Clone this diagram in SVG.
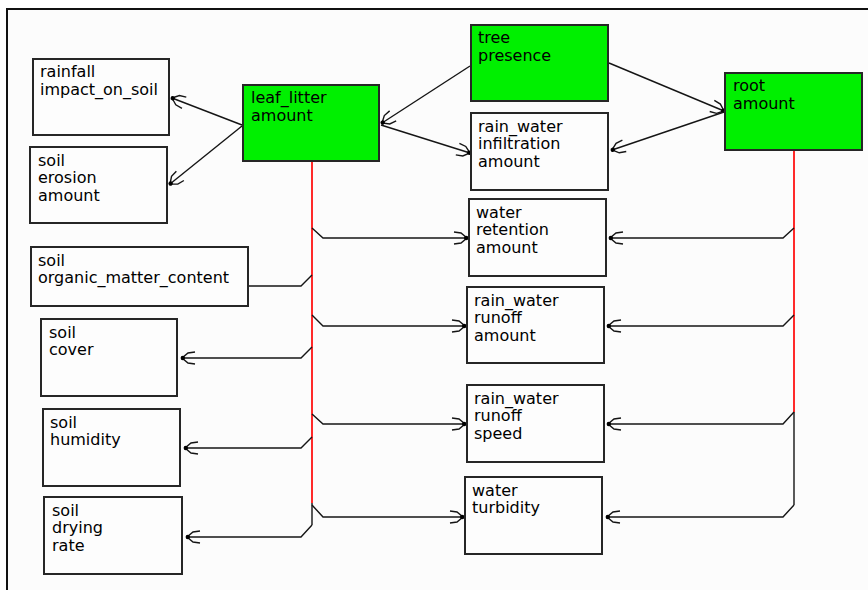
<svg xmlns="http://www.w3.org/2000/svg" width="868" height="590" viewBox="0 0 868 590">
  <style>
    .node rect { fill: #fdfdfd; stroke: #262626; stroke-width: 2; }
    .node.key rect { fill: #00f000; }
    .node text { font-family: "DejaVu Sans", "Liberation Sans", sans-serif; font-size: 16px; fill: #000; }
    .wire { fill: none; stroke: #151515; stroke-width: 1.4; }
    .arrow { marker-end: url(#head); }
    .trunk { fill: none; stroke: #ff2a2a; stroke-width: 2; }
  </style>
  <defs>
    <marker id="head" markerUnits="userSpaceOnUse" viewBox="-15 -8 17 16" refX="0" refY="0" markerWidth="17" markerHeight="16" orient="auto">
      <path d="M-13,-6 L-6,-5 L0,0 L-6,5 L-13,6" fill="none" stroke="#151515" stroke-width="1.4"/>
      <circle cx="-0.8" cy="0" r="2.2" fill="#000"/>
    </marker>
  </defs>

  <!-- canvas frame -->
  <rect x="0" y="0" width="868" height="590" fill="#ffffff"/>
  <rect x="7" y="9" width="861" height="581" fill="#fcfcfc"/>
  <path d="M7,590 V9 H868" fill="none" stroke="#111" stroke-width="2"/>

  <g id="connectors">
    <!-- tree presence outputs -->
    <line class="wire arrow" x1="470" y1="66" x2="382" y2="123"/>
    <line class="wire arrow" x1="609" y1="63" x2="724" y2="111"/>
    <!-- leaf litter diagonal links -->
    <line class="wire arrow" x1="381" y1="125" x2="470" y2="153"/>
    <line class="wire arrow" x1="242" y1="125" x2="172" y2="98"/>
    <line class="wire arrow" x1="242" y1="126" x2="170" y2="184"/>
    <!-- root amount to infiltration -->
    <line class="wire arrow" x1="724" y1="112" x2="612" y2="150"/>

    <!-- leaf litter trunk -->
    <line class="trunk" x1="312" y1="162" x2="312" y2="503"/>
    <line class="wire" x1="312" y1="503" x2="312" y2="525"/>
    <polyline class="wire arrow" points="312,228 323,238 467,238"/>
    <polyline class="wire" points="249,286 301,286 312,275"/>
    <polyline class="wire arrow" points="312,315 323,326 465,326"/>
    <polyline class="wire arrow" points="312,347 301,358 182,358"/>
    <polyline class="wire arrow" points="312,414 323,424 465,424"/>
    <polyline class="wire arrow" points="312,437 301,448 185,448"/>
    <polyline class="wire arrow" points="312,505 323,517 463,517"/>
    <polyline class="wire arrow" points="312,525 301,537 187,537"/>

    <!-- root amount trunk -->
    <line class="trunk" x1="794" y1="151" x2="794" y2="412"/>
    <line class="wire" x1="794" y1="412" x2="794" y2="505"/>
    <polyline class="wire arrow" points="794,228 783,238 610,238"/>
    <polyline class="wire arrow" points="794,315 783,326 608,326"/>
    <polyline class="wire arrow" points="794,412 783,424 608,424"/>
    <polyline class="wire arrow" points="794,505 783,517 607,517"/>
  </g>

  <g id="rainfall_impact" class="node">
    <rect x="33" y="59" width="136" height="76"/>
    <text x="40" y="77">rainfall</text>
    <text x="40" y="94.5">impact_on_soil</text>
  </g>
  <g id="soil_erosion" class="node">
    <rect x="30" y="147" width="137" height="76"/>
    <text x="38" y="165.5">soil</text>
    <text x="38" y="183">erosion</text>
    <text x="38" y="200.5">amount</text>
  </g>
  <g id="leaf_litter" class="node key">
    <rect x="243" y="85" width="136" height="76"/>
    <text x="251" y="103">leaf_litter</text>
    <text x="251" y="120.5">amount</text>
  </g>
  <g id="organic_matter" class="node">
    <rect x="31" y="247" width="217" height="59"/>
    <text x="38" y="265.5">soil</text>
    <text x="38" y="283">organic_matter_content</text>
  </g>
  <g id="soil_cover" class="node">
    <rect x="41" y="319" width="136" height="77"/>
    <text x="49" y="337.5">soil</text>
    <text x="49" y="355">cover</text>
  </g>
  <g id="soil_humidity" class="node">
    <rect x="43" y="409" width="137" height="77"/>
    <text x="50" y="427.5">soil</text>
    <text x="50" y="445">humidity</text>
  </g>
  <g id="soil_drying" class="node">
    <rect x="44" y="497" width="138" height="77"/>
    <text x="52" y="515.5">soil</text>
    <text x="52" y="533">drying</text>
    <text x="52" y="550.5">rate</text>
  </g>
  <g id="tree_presence" class="node key">
    <rect x="471" y="25" width="137" height="76"/>
    <text x="478" y="43">tree</text>
    <text x="478" y="60.5">presence</text>
  </g>
  <g id="infiltration" class="node">
    <rect x="471" y="113" width="137" height="77"/>
    <text x="478" y="131.5">rain_water</text>
    <text x="478" y="149">infiltration</text>
    <text x="478" y="166.5">amount</text>
  </g>
  <g id="water_retention" class="node">
    <rect x="469" y="199" width="137" height="77"/>
    <text x="476" y="217.5">water</text>
    <text x="476" y="235">retention</text>
    <text x="476" y="252.5">amount</text>
  </g>
  <g id="runoff_amount" class="node">
    <rect x="467" y="287" width="137" height="76"/>
    <text x="474" y="305.5">rain_water</text>
    <text x="474" y="323">runoff</text>
    <text x="474" y="340.5">amount</text>
  </g>
  <g id="runoff_speed" class="node">
    <rect x="467" y="385" width="137" height="77"/>
    <text x="474" y="403.5">rain_water</text>
    <text x="474" y="421">runoff</text>
    <text x="474" y="438.5">speed</text>
  </g>
  <g id="water_turbidity" class="node">
    <rect x="465" y="477" width="137" height="77"/>
    <text x="472" y="495.5">water</text>
    <text x="472" y="513">turbidity</text>
  </g>
  <g id="root_amount" class="node key">
    <rect x="725" y="73" width="137" height="77"/>
    <text x="733" y="91">root</text>
    <text x="733" y="108.5">amount</text>
  </g>
</svg>
